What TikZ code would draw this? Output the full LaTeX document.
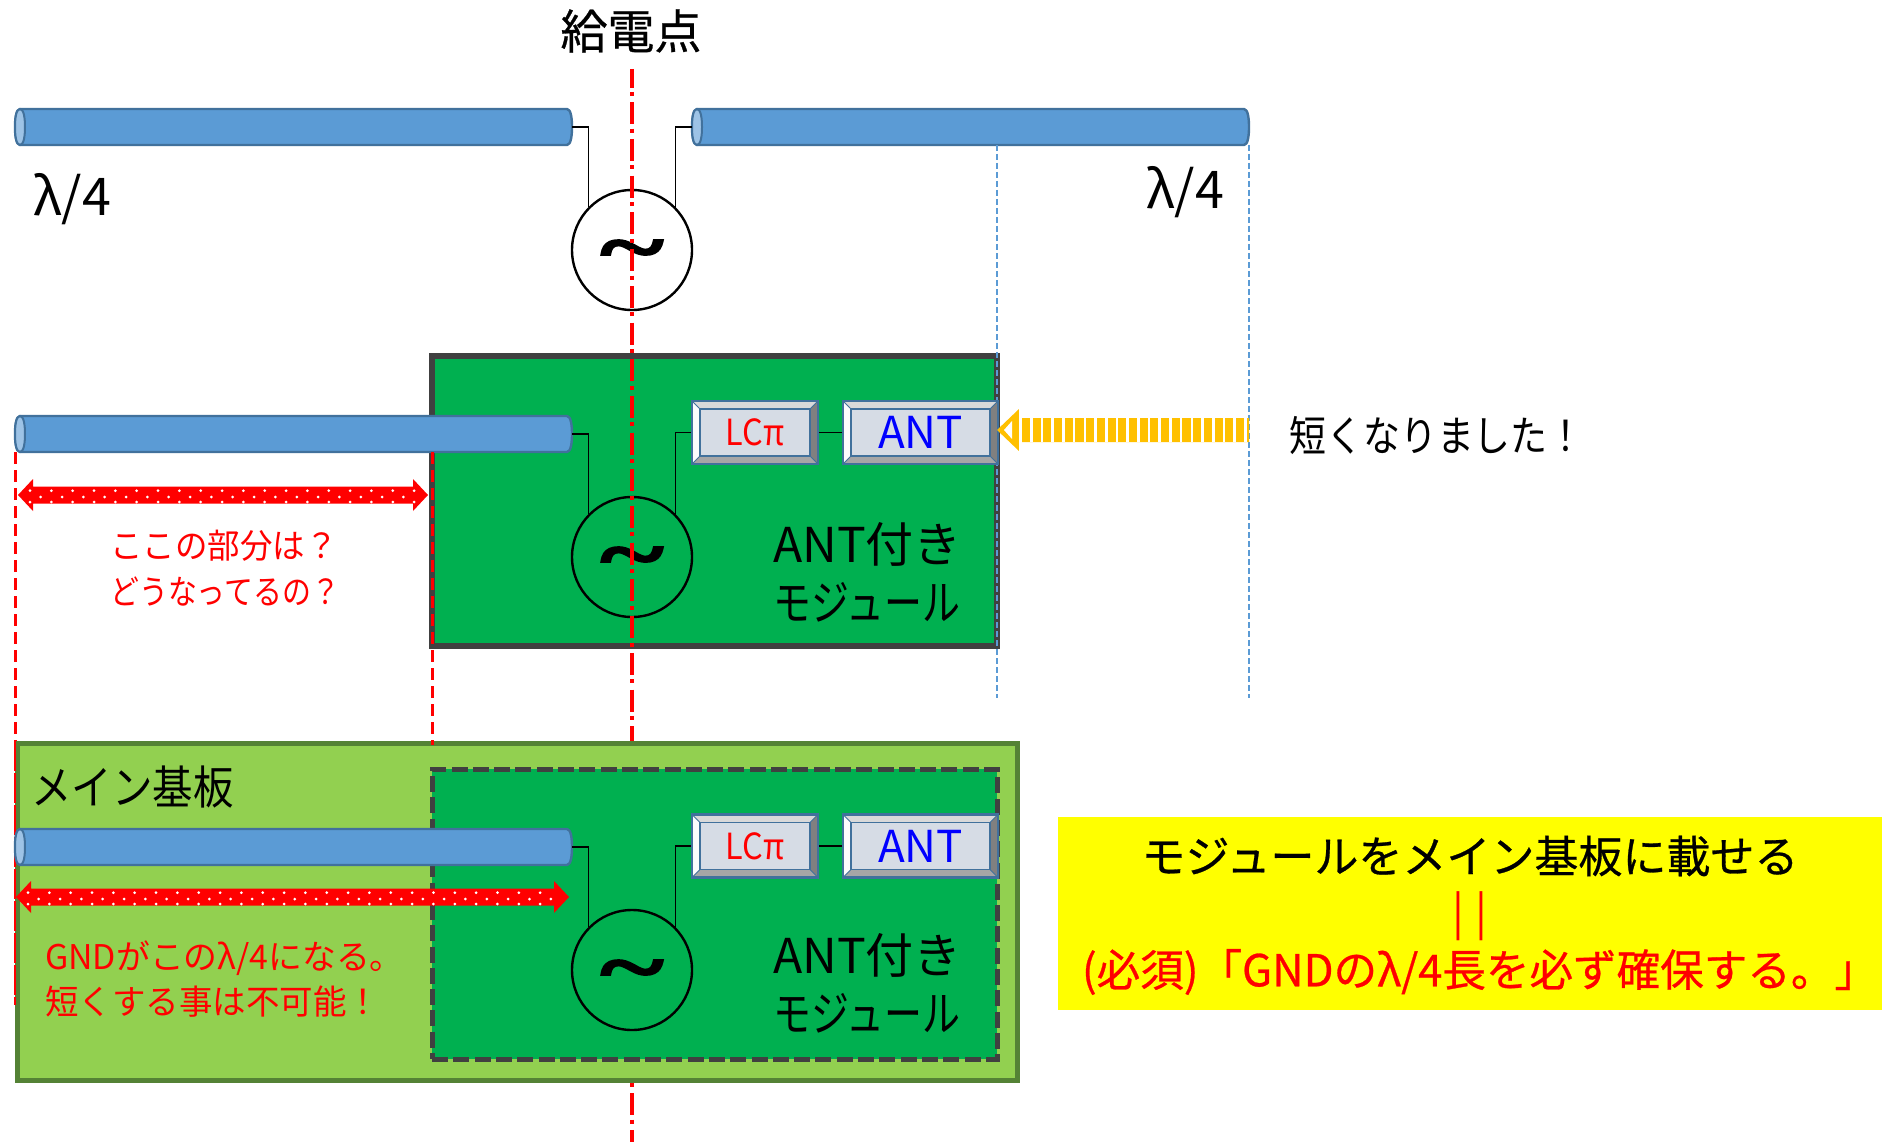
\documentclass[tikz,border=0pt]{standalone}
\usepackage{fontspec}
\setmainfont{Noto Sans CJK JP}
\newfontfamily\heavy[FakeBold=0.6]{Noto Sans CJK JP}
\newfontfamily\tildefont{Liberation Serif}[BoldFont={Liberation Serif Bold},BoldFeatures={FakeBold=2}]
\usetikzlibrary{calc}
\definecolor{cylfill}{HTML}{5B9BD5}
\definecolor{cylline}{HTML}{41719C}
\definecolor{cylcap}{HTML}{9DC3E6}
\definecolor{modgreen}{HTML}{00B050}
\definecolor{modline}{HTML}{404040}
\definecolor{boardgreen}{HTML}{92D050}
\definecolor{boardline}{HTML}{548235}
\definecolor{bevelface}{HTML}{D6DCE5}
\definecolor{yarrow}{HTML}{FFC000}
\definecolor{guide}{HTML}{5B9BD5}
\definecolor{pureyellow}{RGB}{255,255,0}
\definecolor{purered}{RGB}{255,0,0}
\newcommand{\fs}[1]{\fontsize{#1}{#1}\selectfont}
\newcommand{\sx}[2]{\scalebox{#1}[1]{#2}}
\newcommand{\cyl}[4]{% x1 x2 yc name
  \coordinate (#4) at (#1,#3);
  \coordinate (#4E) at (#2,#3);
  \fill[cylfill,draw=cylline,line width=2.4] (#1+5,#3-18) -- (#2-5,#3-18)
    .. controls (#2-1,#3-18) and (#2,#3-8) .. (#2,#3)
    .. controls (#2,#3+8) and (#2-1,#3+18) .. (#2-5,#3+18) -- (#1+5,#3+18)
    .. controls (#1+1,#3+18) and (#1,#3+8) .. (#1,#3)
    .. controls (#1,#3-8) and (#1+1,#3-18) .. (#1+5,#3-18) -- cycle;
  \fill[cylcap,draw=cylline,line width=2] (#1+5,#3-18)
    .. controls (#1+1,#3-18) and (#1,#3-8) .. (#1,#3)
    .. controls (#1,#3+8) and (#1+1,#3+18) .. (#1+5,#3+18)
    .. controls (#1+9,#3+18) and (#1+10,#3+8) .. (#1+10,#3)
    .. controls (#1+10,#3-8) and (#1+9,#3-18) .. (#1+5,#3-18) -- cycle;
}
\newcommand{\bevelbox}[5]{% x1 x2 yc name text
  \pgfmathsetmacro{\yT}{#3-31.5}\pgfmathsetmacro{\yB}{#3+31.5}
  \pgfmathsetmacro{\xA}{#1+8}\pgfmathsetmacro{\xB}{#2-8}
  \pgfmathsetmacro{\yA}{\yT+8}\pgfmathsetmacro{\yC}{\yB-8}
  \fill[bevelface] (#1,\yT) rectangle (#2,\yB);
  \fill[white!85!black] (#1,\yT)--(#2,\yT)--(\xB,\yA)--(\xA,\yA)--cycle;
  \fill[white!92!bevelface] (#1,\yT)--(\xA,\yA)--(\xA,\yC)--(#1,\yB)--cycle;
  \fill[black!35] (#1,\yB)--(\xA,\yC)--(\xB,\yC)--(#2,\yB)--cycle;
  \fill[black!50] (#2,\yT)--(\xB,\yA)--(\xB,\yC)--(#2,\yB)--cycle;
  \draw[cylline,line width=1.6] (\xA,\yA) rectangle (\xB,\yC);
  \draw[cylline,line width=.8] (#1,\yT)--(\xA,\yA) (#2,\yT)--(\xB,\yA) (#1,\yB)--(\xA,\yC) (#2,\yB)--(\xB,\yC);
  \node[minimum width=#2-#1,minimum height=63,inner sep=0,draw=cylline,line width=2.4,anchor=center] (#4) at ({(#1+#2)/2},#3) {#5};
}
\tikzset{
  wire/.style={black,line width=1.3},
  source/.style={circle,draw=black,line width=2.4,minimum size=120,inner sep=0},
  tildetext/.style={font=\tildefont\bfseries\fs{112},inner sep=0},
  redguide/.style={purered,line width=3,dash pattern=on 12pt off 6pt},
  centerline/.style={purered,line width=3.5,dash pattern=on 22pt off 4.4pt on 4pt off 6.3pt,dash phase=3.4pt},
  blueguide/.style={guide,line width=1.2,dash pattern=on 6pt off 3pt},
}
\newcommand{\tildemark}[1]{\node[tildetext] at (#1) {\scalebox{1.08}[0.72]{\char`\~}};}
\newcommand{\dblarrow}[5]{% x1 x2 yc nameL nameR
  \coordinate (#4) at (#1,#3); \coordinate (#5) at (#2,#3);
  \fill[purered] (#1,#3) -- (#1+15,#3-16) -- (#1+15,#3-8.5) -- (#2-15,#3-8.5) -- (#2-15,#3-16)
    -- (#2,#3) -- (#2-15,#3+16) -- (#2-15,#3+8.5) -- (#1+15,#3+8.5) -- (#1+15,#3+16) -- cycle;
  \pgfmathsetmacro{\xN}{#1+12}\pgfmathsetmacro{\xM}{#1+22.67}\pgfmathsetmacro{\xE}{#2-9}
  \foreach \xx in {\xN,\xM,...,\xE}{
    \pgfmathtruncatemacro{\ii}{round((\xx-#1-12)/10.67)}
    \ifodd\ii
      \fill[white] (\xx,#3+2) circle[radius=1.5];
    \else
      \fill[white] (\xx,#3-4.3) circle[radius=1.5];
      \fill[white] (\xx,#3+7) circle[radius=1.5];
    \fi
  }
}
\begin{document}
\begin{tikzpicture}[x=1pt,y=-1pt]
\useasboundingbox[fill=white] (0,0) rectangle (1890,1142);

% top dipole
\cyl{15}{572}{127}{cylA}
\cyl{692}{1249}{127}{cylB}
\node[source] (srcA) at (632,250) {};
\tildemark{632,257}
\draw[wire] (cylAE) -| (srcA.135);
\draw[wire] (cylB) -| (srcA.45);
\node[inner sep=0,font=\heavy\fs{47}] (title) at (631,31) {給電点};
\node[inner sep=0,font=\fs{52},anchor=center] (la) at (72,199) {λ/4};
\node[inner sep=0,font=\fs{52},anchor=center] (lb) at (1185,192) {λ/4};

\coordinate (g1a) at (997,145); \coordinate (g1b) at (997,698);
\coordinate (g2a) at (1249,145); \coordinate (g2b) at (1249,698);

% module 1
\node[draw=modline,fill=modgreen,line width=5.5,minimum width=565,minimum height=290,inner sep=0] (modA) at (714.5,501) {};
\draw[blueguide] (g1a) -- (g1b);
\draw[blueguide] (g2a) -- (g2b);
\node[source] (srcB) at (632,557) {};
\tildemark{632,564}
\cyl{15}{572}{434}{cylC}
\draw[wire] (cylCE) -| (srcB.135);
\bevelbox{692}{818}{432.5}{lcA}{\color{purered}\fs{36}\sx{.9}{LCπ}}
\bevelbox{843}{998}{432.5}{antA}{\color{blue}\fs{44}ANT}
\draw[wire] (lcA.west) -| (srcB.45);
\draw[wire] (lcA.east) -- (antA.west);
\node[inner sep=0,align=left,anchor=west,font=\fs{48}] (modtxtA) at (773,572) {ANT付き\\[10pt]\sx{.79}{モジュール}};

% centre line: over the upper rows, behind the board
\coordinate (cTop) at (632,69);
\coordinate (cBot) at (632,1142);
\draw[centerline] (cTop) -- (cBot);

% yellow arrow
\coordinate (yTail) at (1249,430);
\coordinate (yTip) at (997,430);
\fill[yarrow] (yTip) -- (1019,409) -- (1019,418) -- (yTail|-0,418) -- (yTail|-0,442) -- (1019,442) -- (1019,451) -- cycle;
\fill[white] (1004,430) -- (1012,421) -- (1012,439) -- cycle;
\fill[white] (1019,405) rectangle (1022,455);
\foreach \xx in {1030,1040.7,...,1249}{\fill[white] (\xx,418) rectangle (\xx+2.6,442);}
\node[inner sep=0,font=\fs{42},anchor=center] (short) at (1437,436) {\sx{.88}{短くなりました！}};

% red dims upper
\dblarrow{18}{428}{495}{dimAL}{dimAR}
\node[inner sep=0,align=left,anchor=north west,text=purered,font=\fs{34}] (qA) at (110,530) {\sx{.955}{ここの部分は？}\\[12pt]\sx{.85}{どうなってるの？}};

% guides down to the board
\coordinate (r1a) at (15,452); \coordinate (r1b) at (15,1005);
\coordinate (r2a) at (432,452); \coordinate (r2b) at (432,745);
% board
\node[draw=boardline,fill=boardgreen,line width=5,minimum width=1000,minimum height=337,inner sep=0] (board) at (517,911.5) {};
\draw[redguide] (r1a) -- (15,741);
\draw[purered,line width=1.6,dash pattern=on 30pt off 2pt] (15,741) -- (r1b);
\draw[redguide] (r2a) -- (r2b);
\node[draw=modline,fill=modgreen,line width=5,dash pattern=on 16pt off 5.3pt,minimum width=565,minimum height=290,inner sep=0] (modB) at (714.5,914) {};
\node[source] (srcC) at (632,970) {};
\tildemark{632,977}
\cyl{15}{572}{847}{cylD}
\draw[wire] (cylDE) -| (srcC.135);
\bevelbox{692}{818}{846}{lcB}{\color{purered}\fs{36}\sx{.9}{LCπ}}
\bevelbox{843}{998}{846}{antB}{\color{blue}\fs{44}ANT}
\draw[wire] (lcB.west) -| (srcC.45);
\draw[wire] (lcB.east) -- (antB.west);
\node[inner sep=0,align=left,anchor=west,font=\fs{48}] (modtxtB) at (773,983) {ANT付き\\[10pt]\sx{.79}{モジュール}};
\node[inner sep=0,font=\fs{46},anchor=west] (main) at (31,787) {\sx{.88}{メイン基板}};
\dblarrow{16}{569}{897}{dimBL}{dimBR}
\node[inner sep=0,align=left,anchor=north west,text=purered,font=\fs{34}] (qB) at (45,941) {\sx{.995}{GNDがこのλ/4になる。}\\[9pt]\sx{.985}{短くする事は不可能！}};

% yellow box
\node[fill=pureyellow,minimum width=824,minimum height=193,inner sep=0] (note) at (1470,913.5) {};
\node[inner sep=0,font=\heavy\fs{44}] (n1) at (1470,856) {モジュールをメイン基板に載せる};
\node[inner sep=0,font=\fs{44},text=purered] (n2) at (1469.5,916) {|\hspace{11pt}|};
\node[inner sep=0,font=\heavy\fs{44},text=purered] (n3) at (1480,972) {\sx{.99}{(必須)「GNDのλ/4長を必ず確保する。」}};
\end{tikzpicture}
\end{document}
